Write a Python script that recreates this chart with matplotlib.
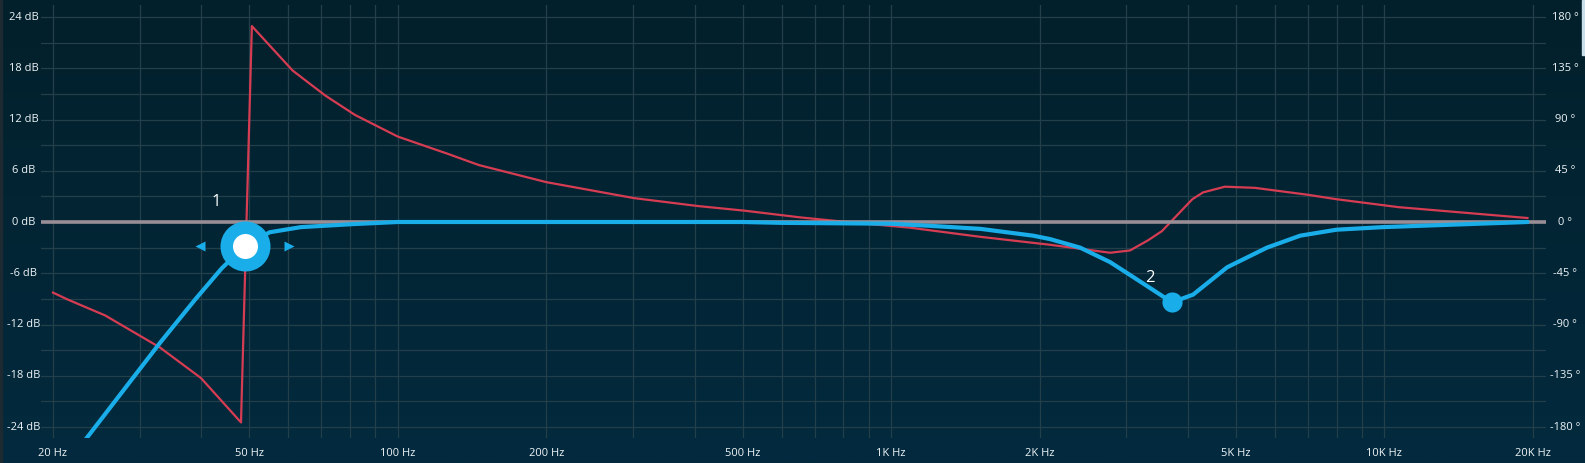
import matplotlib.pyplot as plt
import numpy as np
from matplotlib import transforms
from matplotlib.patches import Rectangle

# magnitude curve (dB) - blue
mag_freq = [20, 23.4, 32.9, 38.8, 44, 49, 55, 63.6, 81, 100, 200, 500, 600,
            1000, 1200, 1516, 1940, 2100, 2416, 2780, 3050, 3710, 4095, 4800,
            5780, 6750, 8000, 9930, 19500]
mag_db = [-30.5, -25.3, -14.2, -9.1, -5.4, -2.8, -1.2, -0.6, -0.25, 0, 0, 0, -0.1,
          -0.2, -0.45, -0.8, -1.6, -2.0, -3.0, -4.7, -6.2, -9.4, -8.5, -5.3,
          -3.0, -1.6, -0.9, -0.6, 0]

# phase curve (degrees) - red
ph_freq = [20, 21.4, 25.5, 32.9, 39.9, 48.1, 50.6, 61.2, 71.3, 81.9, 100, 126,
           146, 200, 301, 406, 503, 656, 813, 1093, 1516, 2100, 2780, 3050,
           3320, 3540, 4080, 4290, 4750, 5460, 6970, 8000, 10700, 19500]
ph_deg = [-62, -68, -82, -110, -137, -176, 172, 133, 111, 94, 75, 60,
          50, 35, 21, 14, 10, 4, 0, -5, -13, -20, -27, -25,
          -16, -8, 20, 26, 31, 30, 24, 20, 13, 3.5]

# filter nodes
node_freq = [49.1, 3710]
node_db = [-2.8, -9.4]
node_labels = ["1", "2"]

grid_freq = [20, 30, 40, 50, 60, 70, 80, 90, 100, 200, 300, 400, 500, 600, 700,
             800, 900, 1000, 2000, 3000, 4000, 5000, 6000, 7000, 8000, 9000,
             10000, 20000]
tick_freq = [20, 50, 100, 200, 500, 1000, 2000, 5000, 10000, 20000]
tick_freq_labels = ["20 Hz", "50 Hz", "100 Hz", "200 Hz", "500 Hz", "1K Hz",
                    "2K Hz", "5K Hz", "10K Hz", "20K Hz"]
db_ticks = [24, 18, 12, 6, 0, -6, -12, -18, -24]
deg_ticks = [180, 135, 90, 45, 0, -45, -90, -135, -180]

plt.rcParams['font.family'] = ['Open Sans', 'DejaVu Sans']

W, H = 1585, 463
fig = plt.figure(figsize=(W / 100, H / 100), dpi=100)

# background gradient
bg = fig.add_axes([0, 0, 1, 1])
bg.set_axis_off()
grad = np.linspace(0, 1, 256).reshape(-1, 1)
top = np.array([2, 32, 43]) / 255
bot = np.array([3, 42, 62]) / 255
img = top + (bot - top) * grad[:, :, None]
bg.imshow(img, aspect='auto', extent=[0, 1, 0, 1])
bg.add_patch(Rectangle((0, 0), 2 / W, 1, color='#1d2a31', transform=bg.transAxes))
bg.add_patch(Rectangle((1 - 3 / W, 1 - 55 / H), 3 / W, 55 / H, color='#c9dfea',
                       transform=bg.transAxes))

x0, x1 = 41, 1546
y0, y1 = 5, 438
ax = fig.add_axes([x0 / W, (H - y1) / H, (x1 - x0) / W, (y1 - y0) / H])
ax.patch.set_alpha(0)
ax.set_xscale('log')
px_dec = 493.3
ax.set_xlim(20 * 10 ** ((x0 - 53) / px_dec), 20 * 10 ** ((x1 - 53) / px_dec))
px_db = 51.25 / 6
ax.set_ylim((222 - y1) / px_db, (222 - y0) / px_db)
for s in ax.spines.values():
    s.set_visible(False)
ax.set_xticks([])
ax.set_yticks([])
ax.minorticks_off()

grid_c = '#233f4a'
for v in np.arange(-24, 25, 3):
    ax.axhline(v, color=grid_c, lw=0.9, zorder=1)
for f in grid_freq:
    ax.axvline(f, color=grid_c, lw=0.9, zorder=1)

ax.plot(ph_freq, np.array(ph_deg) / 7.5, color='#d63c52', lw=1.6, zorder=3)
ax.axhline(0, color='#9a8e96', lw=2.6, zorder=4)
ax.plot(mag_freq, mag_db, color='#19aeea', lw=3, zorder=5, solid_capstyle='round')

# node 1 (selected) with arrows
ax.plot(node_freq[0], node_db[0], 'o', ms=36, color='#19aeea', mec='none', zorder=6)
ax.plot(node_freq[0], node_db[0], 'o', ms=18, color='white', mec='none', zorder=7)
left_tr = transforms.offset_copy(ax.transData, fig=fig, x=-45, y=0, units='dots')
right_tr = transforms.offset_copy(ax.transData, fig=fig, x=44, y=0, units='dots')
ax.plot(node_freq[0], node_db[0], '<', ms=7, color='#19aeea', mec='none',
        transform=left_tr, zorder=6)
ax.plot(node_freq[0], node_db[0], '>', ms=7, color='#19aeea', mec='none',
        transform=right_tr, zorder=6)
# node 2
ax.plot(node_freq[1], node_db[1], 'o', ms=14.5, color='#19aeea', mec='none', zorder=6)

label_off = [(-29, 44), (-22, 24)]
for f, g, t, off in zip(node_freq, node_db, node_labels, label_off):
    ax.annotate(t, (f, g), xytext=off, textcoords='offset pixels', color='white',
                fontsize=12, ha='center', va='center', zorder=8)

# axis labels
tc = '#eef4f7'
tr_left = transforms.blended_transform_factory(fig.transFigure, ax.transData)
for d in db_ticks:
    ax.text(24 / W, d, f"{d} dB", transform=tr_left, ha='center', va='center',
            color=tc, fontsize=8)
for d in deg_ticks:
    ax.text(1565 / W, d / 7.5, f"{d} °", transform=tr_left, ha='center',
            va='center', color=tc, fontsize=8)
tr_bot = transforms.blended_transform_factory(ax.transData, fig.transFigure)
for f, t in zip(tick_freq, tick_freq_labels):
    ax.text(f, (H - 454) / H, t, transform=tr_bot, ha='center', va='center',
            color=tc, fontsize=8)

fig.savefig('out.png', dpi=100)
